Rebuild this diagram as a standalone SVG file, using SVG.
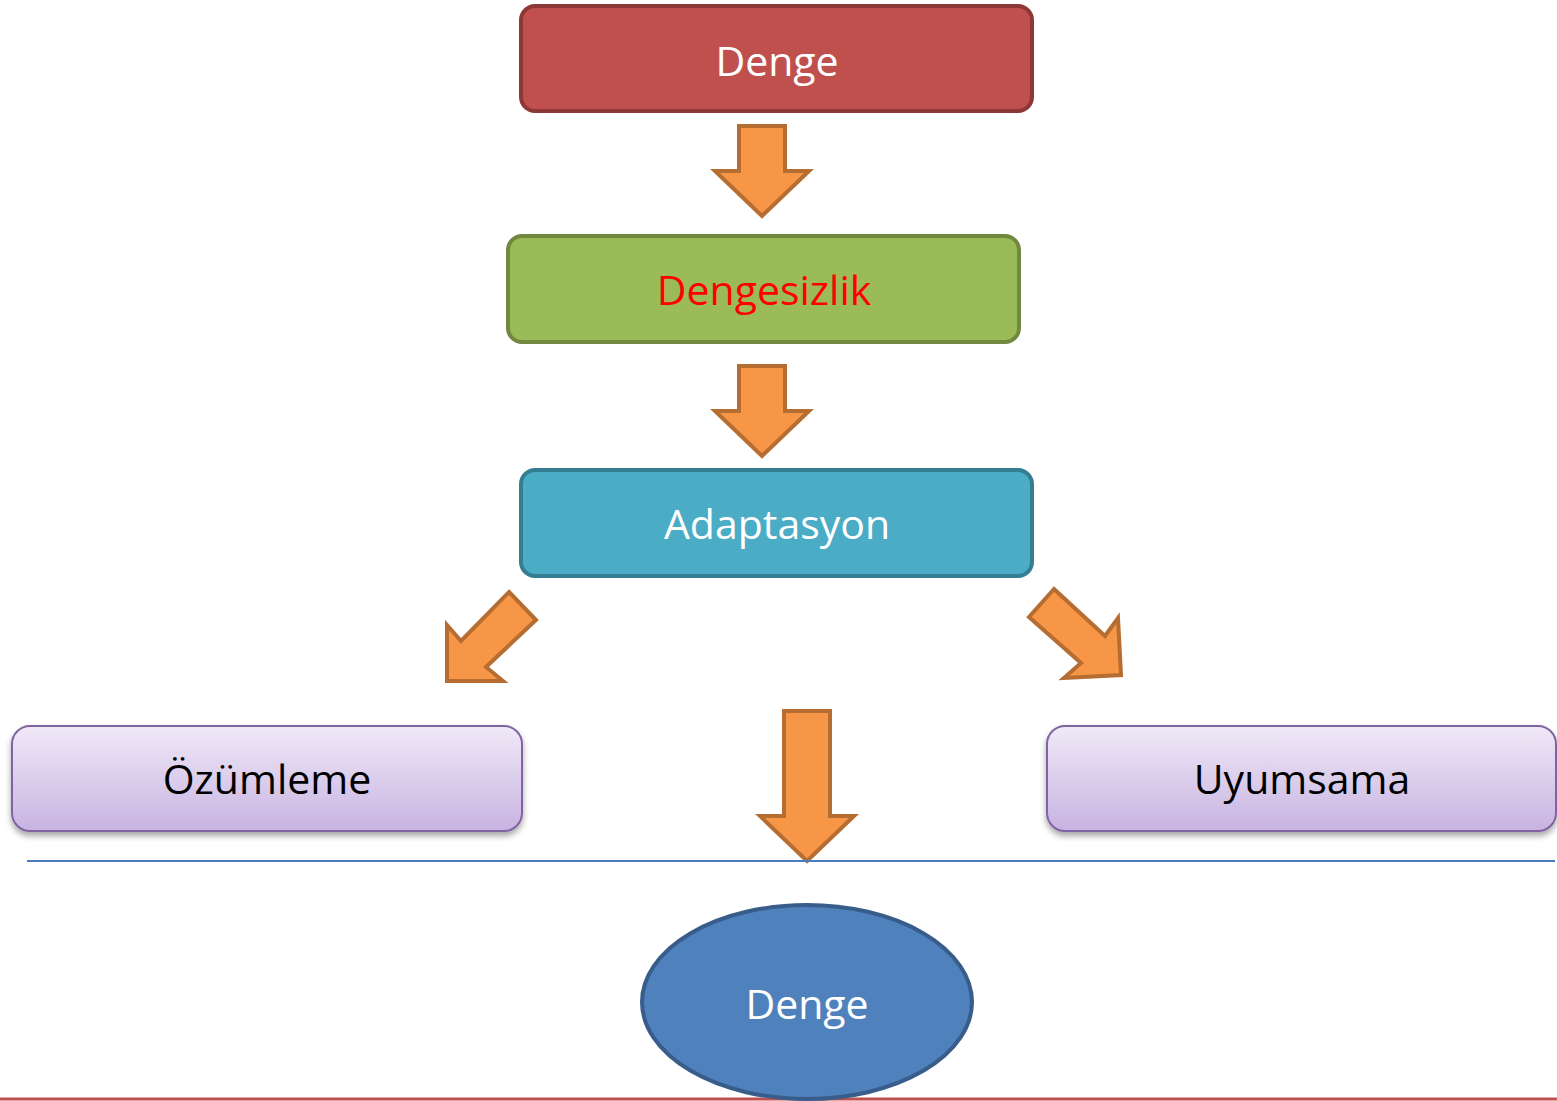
<svg xmlns="http://www.w3.org/2000/svg" width="1557" height="1101" viewBox="0 0 1557 1101">
<defs>
<linearGradient id="purp" x1="0" y1="0" x2="0" y2="1">
<stop offset="0" stop-color="#EFE9F7"/>
<stop offset="1" stop-color="#C8B3E1"/>
</linearGradient>
<filter id="sh" x="-10%" y="-20%" width="120%" height="150%">
<feDropShadow dx="0" dy="4" stdDeviation="3" flood-color="#000" flood-opacity="0.35"/>
</filter>
</defs>
<style>
.t{font-family:"Open Sans","Noto Sans","Liberation Sans",sans-serif;font-size:41px;text-anchor:middle}
.w{fill:#FFFFFF}
.arr{fill:#F79646;stroke:#B66D31;stroke-width:4;stroke-linejoin:miter}
.pb{fill:url(#purp);stroke:#8064A2;stroke-width:2}
</style>
<rect width="1557" height="1101" fill="#FFFFFF"/>
<g id="connectors">
<polygon class="arr" points="739,126 785,126 785,171 809,171 762,216 715,171 739,171"/>
<polygon class="arr" points="739,366 785,366 785,411 809,411 762,456 715,411 739,411"/>
<polygon class="arr" points="509,592 536,620 486,667 503,681 447,681 447,625 461,641"/>
<polygon class="arr" points="1054,589 1105,636 1118,618 1121,675 1064,678 1081,663 1029,617"/>
<polygon class="arr" points="784,711 830,711 830,816 854,816 807,861 760,816 784,816"/>
<line x1="27" y1="861" x2="1555" y2="861" stroke="#4A7EBB" stroke-width="2"/>
<line x1="0" y1="1099" x2="1557" y2="1099" stroke="#C0504D" stroke-width="3"/>
</g>
<g id="node-denge-top">
<rect x="521" y="6" width="511" height="105" rx="14" fill="#C0504D" stroke="#8C3836" stroke-width="4"/>
<text class="t w" x="777" y="76">Denge</text>
</g>
<g id="node-dengesizlik">
<rect x="508" y="236" width="511" height="106" rx="14" fill="#9BBB59" stroke="#71893F" stroke-width="4"/>
<text class="t" x="764" y="305" fill="#FF0000">Dengesizlik</text>
</g>
<g id="node-adaptasyon">
<rect x="521" y="470" width="511" height="106" rx="14" fill="#4BACC6" stroke="#357D91" stroke-width="4"/>
<text class="t w" x="777" y="539">Adaptasyon</text>
</g>
<g id="node-ozumleme">
<rect class="pb" x="12" y="726" width="510" height="105" rx="18" filter="url(#sh)"/>
<text class="t" x="267" y="794" fill="#000000">Özümleme</text>
</g>
<g id="node-uyumsama">
<rect class="pb" x="1047" y="726" width="509" height="105" rx="18" filter="url(#sh)"/>
<text class="t" x="1302" y="794" fill="#000000">Uyumsama</text>
</g>
<g id="node-denge-bottom">
<ellipse cx="807" cy="1002" rx="165" ry="97" fill="#4F81BD" stroke="#385D8A" stroke-width="4"/>
<text class="t w" x="807" y="1019">Denge</text>
</g>
</svg>
